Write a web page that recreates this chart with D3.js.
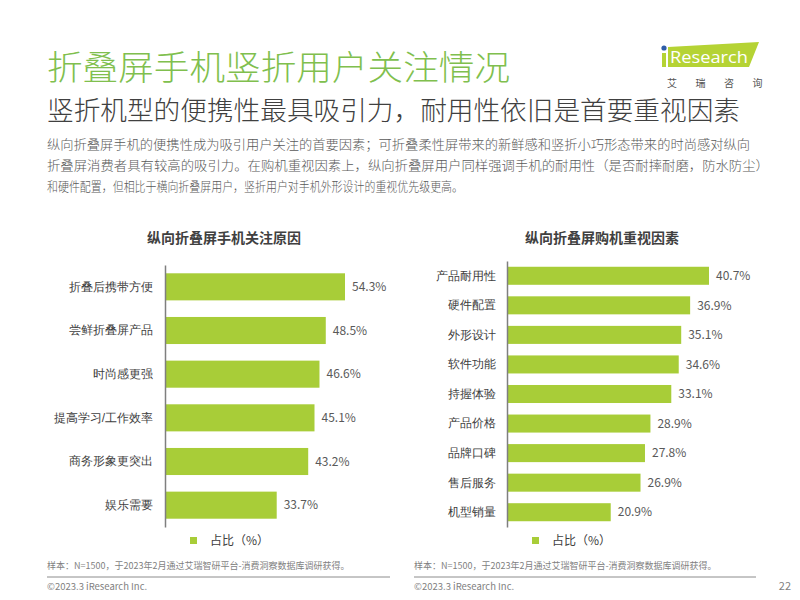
<!DOCTYPE html>
<html><head><meta charset="utf-8">
<script src="https://cdn.jsdelivr.net/npm/d3@7"></script>
<style>
html,body{margin:0;padding:0;background:#fff;}
svg{display:block;font-family:"Noto Sans CJK SC","Noto Sans",sans-serif;}
</style></head>
<body>
<svg id="c" width="800" height="600"></svg>
<script>
const leftCategories = ["折叠后携带方便","尝鲜折叠屏产品","时尚感更强","提高学习/工作效率","商务形象更突出","娱乐需要"];
const leftValues = [54.3,48.5,46.6,45.1,43.2,33.7];
const rightCategories = ["产品耐用性","硬件配置","外形设计","软件功能","持握体验","产品价格","品牌口碑","售后服务","机型销量"];
const rightValues = [40.7,36.9,35.1,34.6,33.1,28.9,27.8,26.9,20.9];
const titleText = "折叠屏手机竖折用户关注情况";
const subtitleText = "竖折机型的便携性最具吸引力，耐用性依旧是首要重视因素";
const bodyLines = [
 "纵向折叠屏手机的便携性成为吸引用户关注的首要因素；可折叠柔性屏带来的新鲜感和竖折小巧形态带来的时尚感对纵向",
 "折叠屏消费者具有较高的吸引力。在购机重视因素上，纵向折叠屏用户同样强调手机的耐用性（是否耐摔耐磨，防水防尘）",
 "和硬件配置，但相比于横向折叠屏用户，竖折用户对手机外形设计的重视优先级更高。"
];
const leftTitle = "纵向折叠屏手机关注原因";
const rightTitle = "纵向折叠屏购机重视因素";
const legendLabel = "占比（%）";
const sourceText = "样本：N=1500，于2023年2月通过艾瑞智研平台-消费洞察数据库调研获得。";
const copyrightText = "©2023.3 iResearch Inc.";
const pageNum = "22";

const svg = d3.select("#c");
const GREEN_T = "#80bf4e", BAR = "#a8cd38";

svg.append("text").attr("x",47).attr("y",80).attr("font-size",34).attr("font-weight",300).attr("fill",GREEN_T)
  .attr("textLength",463).attr("lengthAdjust","spacingAndGlyphs").text(titleText);
svg.append("text").attr("x",47).attr("y",120).attr("font-size",26).attr("font-weight",300).attr("fill","#404040")
  .attr("textLength",693).attr("lengthAdjust","spacingAndGlyphs").text(subtitleText);
const bodyLens=[703,722,416];
bodyLines.forEach((t,i)=>{
  svg.append("text").attr("x",47).attr("y",149+i*21).attr("font-size",13).attr("font-weight",300).attr("fill","#595959")
    .attr("textLength",bodyLens[i]).attr("lengthAdjust","spacingAndGlyphs").text(t);
});

// logo
const logo = svg.append("g");
logo.append("path").attr("d","M668,47 L759,42 L749,67 L668,67 Z").attr("fill","#b5d334");
logo.append("rect").attr("x",662).attr("y",53).attr("width",4).attr("height",14).attr("fill","#b5d334");
logo.append("circle").attr("cx",664).attr("cy",48).attr("r",2.6).attr("fill","#2f5da8");
logo.append("text").attr("x",670).attr("y",63).attr("font-size",17).attr("fill","#fff")
  .attr("font-family","'Open Sans',sans-serif").attr("textLength",78).attr("lengthAdjust","spacingAndGlyphs").text("Research");
["艾","瑞","咨","询"].forEach((ch,i)=>{
  logo.append("text").attr("x",667+i*28.5).attr("y",87).attr("font-size",10).attr("fill","#555").text(ch);
});

function drawChart(cfg){
  const g = svg.append("g");
  const x = d3.scaleLinear().domain([0,d3.max(cfg.values)]).range([cfg.x0,cfg.xMax]);
  const y = d3.scaleBand().domain(cfg.cats).range([cfg.y0,cfg.y1]).paddingInner(cfg.pi).paddingOuter(cfg.po);
  g.append("text").attr("x",cfg.titleX).attr("y",243).attr("text-anchor","middle")
    .attr("font-size",14).attr("font-weight","bold").attr("fill","#404040").text(cfg.title);
  g.selectAll("rect.bar").data(cfg.values).join("rect").attr("class","bar")
    .attr("x",x(0)).attr("y",(d,i)=>y(cfg.cats[i])).attr("width",d=>x(d)-x(0)).attr("height",y.bandwidth())
    .attr("fill",BAR);
  g.selectAll("text.val").data(cfg.values).join("text").attr("class","val")
    .attr("x",d=>x(d)+7).attr("y",(d,i)=>y(cfg.cats[i])+y.bandwidth()/2).attr("dy","0.35em")
    .attr("font-size",12).attr("fill","#595959").text(d=>d.toFixed(1)+"%");
  const ax = d3.axisLeft(y).tickSize(0).tickPadding(cfg.pad);
  const axg = g.append("g").attr("transform",`translate(${cfg.x0},0)`).call(ax);
  axg.select(".domain").attr("stroke","#7f7f7f").attr("stroke-width",1.5);
  axg.selectAll("text").attr("font-size",12).attr("fill","#404040").attr("font-family",null);
  g.append("rect").attr("x",cfg.legX).attr("y",537).attr("width",7).attr("height",7).attr("fill",BAR);
  g.append("text").attr("x",cfg.legX+20).attr("y",545).attr("font-size",12).attr("fill","#404040").text(legendLabel);
  g.append("text").attr("x",cfg.srcX).attr("y",569).attr("font-size",9).attr("fill","#7f7f7f").text(sourceText);
  g.append("line").attr("x1",cfg.srcX).attr("x2",cfg.lineX2).attr("y1",577).attr("y2",577).attr("stroke","#8c8c8c").attr("stroke-width",1);
  g.append("text").attr("x",cfg.srcX).attr("y",590).attr("font-size",9.5).attr("fill","#7f7f7f").text(copyrightText);
}

drawChart({cats:leftCategories,values:leftValues,x0:165,xMax:345,y0:265,y1:527,pi:0.38,po:0.19,
  title:leftTitle,titleX:224,pad:12,legX:190,srcX:47,lineX2:390});
drawChart({cats:rightCategories,values:rightValues,x0:507,xMax:709,y0:261,y1:527,pi:0.39,po:0.195,
  title:rightTitle,titleX:602,pad:11,legX:532,srcX:414,lineX2:756});

svg.append("text").attr("x",791).attr("y",590).attr("text-anchor","end").attr("font-size",11).attr("fill","#7f7f7f").text(pageNum);
</script>
</body></html>
